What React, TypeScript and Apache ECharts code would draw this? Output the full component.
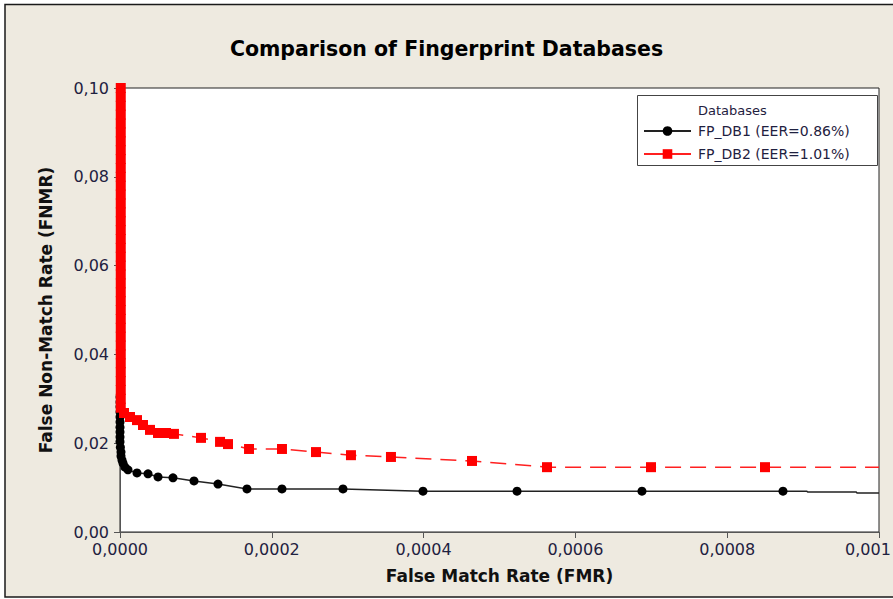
import React, { useEffect, useRef } from "react";
import * as echarts from "echarts";

// ---- Data ----
const seriesNames = ["FP_DB1 (EER=0.86%)", "FP_DB2 (EER=1.01%)"];
const legendTitle = "Databases";
const chartTitle = "Comparison of Fingerprint Databases";
const xAxisName = "False Match Rate (FMR)";
const yAxisName = "False Non-Match Rate (FNMR)";

const xTickLabels = ["0,0000", "0,0002", "0,0004", "0,0006", "0,0008", "0,001"];
const yTickLabels = ["0,00", "0,02", "0,04", "0,06", "0,08", "0,10"];

// FP_DB1 (black, circles)
const fmr1 = [
  0, 0, 0, 0, 0, 0, 0, 0, 0, 0, 0.0000005, 0.0000013, 0.0000013, 0.0000026, 0.000004,
  0.0000066, 0.0000105, 0.0000224, 0.0000369, 0.0000501, 0.0000698, 0.0000975,
  0.0001291, 0.0001673, 0.0002134, 0.0002938, 0.0003992, 0.0005231, 0.0006877, 0.0008735,
];
const fnmr1 = [
  0.0304, 0.0293, 0.0282, 0.027, 0.0259, 0.0248, 0.0236, 0.0225, 0.0214, 0.0203, 0.0191,
  0.018, 0.0171, 0.0162, 0.0155, 0.0146, 0.014, 0.0133, 0.0131, 0.0124, 0.0122, 0.0115,
  0.0108, 0.0097, 0.0097, 0.0097, 0.0092, 0.0092, 0.0092, 0.0092,
];
// line continuation without markers
const fmr1Tail = [0.000905, 0.000906, 0.00097, 0.000971, 0.001];
const fnmr1Tail = [0.0092, 0.009, 0.009, 0.0088, 0.0088];

// FP_DB2 (red, squares)
const fmr2 = [
  0.000001, 0.000001, 0.000001, 0.000001, 0.000001, 0.000001, 0.000001, 0.000001,
  0.000001, 0.000001, 0.000001, 0.000001, 0.000001, 0.000001, 0.000001, 0.000001,
  0.000001, 0.000001, 0.000001, 0.000001, 0.000001, 0.000001, 0.000001, 0.000001,
  0.000001, 0.000001, 0.000001, 0.000001, 0.000001, 0.000001, 0.000001, 0.000001,
  0.000001, 0.000001, 0.000001, 0.000001, 0.000001,
  0.0000053, 0.0000132, 0.0000224, 0.0000303, 0.0000395, 0.0000501, 0.0000606,
  0.0000711, 0.0001067, 0.0001318, 0.0001423, 0.00017, 0.0002134, 0.0002582,
  0.0003043, 0.000357, 0.0004638, 0.0005626, 0.0006996, 0.0008498,
];
const fnmr2 = [
  0.1, 0.098, 0.096, 0.094, 0.092, 0.09, 0.088, 0.086, 0.084, 0.082, 0.08, 0.078, 0.076,
  0.074, 0.072, 0.07, 0.068, 0.066, 0.064, 0.062, 0.06, 0.058, 0.056, 0.054, 0.052, 0.05,
  0.048, 0.046, 0.044, 0.042, 0.04, 0.038, 0.036, 0.034, 0.032, 0.03, 0.028,
  0.0268, 0.0259, 0.0252, 0.0241, 0.023, 0.0223, 0.0223, 0.0221, 0.0212, 0.0203, 0.0198,
  0.0187, 0.0187, 0.018, 0.0173, 0.0169, 0.016, 0.0146, 0.0146, 0.0146,
];
const fmr2Tail = [0.001];
const fnmr2Tail = [0.0146];

const X_MAX = 0.001;
const X_STEP = 0.0002;
const Y_MAX = 0.1;
const Y_STEP = 0.02;

const BG = "#EEEAE0";
const LABEL = "#1f2140";
const FONT = "'DejaVu Sans', Verdana, sans-serif";

export default function App() {
  const ref = useRef<HTMLDivElement>(null);

  useEffect(() => {
    if (!ref.current) return;
    const chart = echarts.init(ref.current, undefined, { renderer: "svg" });

    const data1: any[] = fmr1.map((x, i) => [x, fnmr1[i]]);
    fmr1Tail.forEach((x, i) => data1.push({ value: [x, fnmr1Tail[i]], symbol: "none" }));
    const data2: any[] = fmr2.map((x, i) => [x, fnmr2[i]]);
    fmr2Tail.forEach((x, i) => data2.push({ value: [x, fnmr2Tail[i]], symbol: "none" }));

    const lastX = xTickLabels.length - 1;

    chart.setOption({
      animation: false,
      backgroundColor: "#ffffff",
      title: {
        text: chartTitle,
        left: "center",
        top: 33,
        textStyle: {
          fontFamily: FONT,
          fontWeight: "bold",
          fontSize: 20.5,
          color: "#000",
        },
      },
      graphic: [
        {
          type: "rect",
          z: -10,
          shape: { x: 5, y: 4.5, width: 900, height: 592.5 },
          style: { fill: BG, stroke: "#1a1a1a", lineWidth: 1.5 },
        },
        {
          type: "rect",
          z: 3,
          shape: { x: 637.5, y: 95.5, width: 240, height: 70 },
          style: { fill: "#ffffff", stroke: "#444", lineWidth: 1 },
        },
        {
          type: "text",
          z: 5,
          x: 698,
          y: 110,
          style: {
            text: legendTitle,
            fontFamily: FONT,
            fontSize: 13,
            fill: LABEL,
            verticalAlign: "middle",
            align: "left",
          },
        },
      ],
      legend: {
        orient: "vertical",
        left: 643,
        top: 124,
        itemWidth: 47,
        itemHeight: 12,
        itemGap: 9,
        padding: 0,
        lineStyle: { type: "solid" },
        textStyle: { fontFamily: FONT, fontSize: 14, color: LABEL, padding: [0, 0, 0, 2] },
        data: seriesNames,
      },
      grid: {
        left: 120,
        right: 14,
        top: 88,
        bottom: 67,
        outerBoundsMode: "none",
        containLabel: false,
        show: true,
        backgroundColor: "#ffffff",
        borderColor: "#222",
        borderWidth: 1,
      },
      xAxis: {
        type: "value",
        min: 0,
        max: X_MAX,
        interval: X_STEP,
        name: xAxisName,
        nameLocation: "middle",
        nameGap: 35,
        nameTextStyle: { fontFamily: FONT, fontWeight: "bold", fontSize: 17, color: "#111" },
        axisLine: { show: true, lineStyle: { color: "#555", width: 1 } },
        axisTick: { show: true, length: 6, lineStyle: { color: "#555" } },
        splitLine: { show: false },
        axisLabel: {
          margin: 9,
          fontFamily: FONT,
          fontSize: 16,
          color: LABEL,
          hideOverlap: false,
          formatter: (v: number) => {
            const i = Math.round(v / X_STEP);
            const t = xTickLabels[i] ?? "";
            return i === lastX ? "{last|" + t + "}" : t;
          },
          rich: {
            last: {
              fontFamily: FONT,
              fontSize: 16,
              color: LABEL,
              padding: [0, 22, 0, 0],
            },
          },
        },
      },
      yAxis: {
        type: "value",
        min: 0,
        max: Y_MAX,
        interval: Y_STEP,
        name: yAxisName,
        nameLocation: "middle",
        nameGap: 66,
        nameTextStyle: { fontFamily: FONT, fontWeight: "bold", fontSize: 17, color: "#111" },
        axisLine: { show: true, lineStyle: { color: "#555", width: 1 } },
        axisTick: { show: true, length: 6, lineStyle: { color: "#555" } },
        splitLine: { show: false },
        axisLabel: {
          margin: 11,
          fontFamily: FONT,
          fontSize: 16,
          color: LABEL,
          formatter: (v: number) => yTickLabels[Math.round(v / Y_STEP)] ?? "",
        },
      },
      series: [
        {
          name: seriesNames[0],
          type: "line",
          data: data1,
          symbol: "circle",
          symbolSize: 9,
          showAllSymbol: true,
          z: 2,
          itemStyle: { color: "#000" },
          lineStyle: { color: "#222", width: 1.5 },
        },
        {
          name: seriesNames[1],
          type: "line",
          data: data2,
          symbol: "rect",
          symbolSize: 10,
          showAllSymbol: true,
          z: 3,
          itemStyle: { color: "#ff0000" },
          lineStyle: { color: "#ff2020", width: 1.5, type: [16, 9] },
        },
      ],
    });

    return () => chart.dispose();
  }, []);

  return (
    <div
      ref={ref}
      style={{ position: "fixed", left: 0, top: 0, width: 893, height: 599, background: "#fff" }}
    />
  );
}
